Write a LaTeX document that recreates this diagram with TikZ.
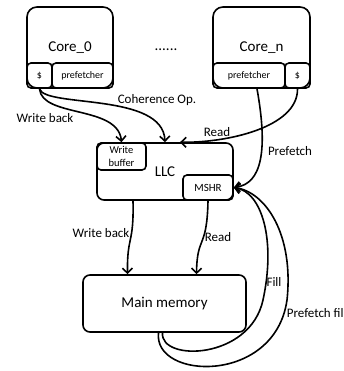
\documentclass[tikz,border=0pt]{standalone}
\usepackage{fontspec}
\setmainfont{Carlito}
\usetikzlibrary{arrows.meta,positioning}

\begin{document}
\begin{tikzpicture}[
  x=1pt,y=-1pt,
  line width=1.6pt,
  core/.style={draw,rounded corners=10pt,minimum width=86pt,minimum height=81pt,inner sep=0pt,font=\fontsize{15}{18}\selectfont},
  part/.style={draw,rounded corners=4pt,minimum height=25pt,inner sep=0pt,font=\fontsize{10}{12}\selectfont},
  bigbox/.style={draw,rounded corners=7pt,minimum height=57pt,inner sep=0pt,font=\fontsize{15}{18}\selectfont},
  lbl/.style={font=\fontsize{13}{15}\selectfont,inner sep=1pt},
  arr/.style={-{Straight Barb[length=5pt,width=10pt]}}
]
\useasboundingbox (0,0) rectangle (344,371);

% cores with their cache and prefetcher
\node[core] (core0) at (70,47.5) {Core\_0};
\node[part,minimum width=25pt,anchor=south west] (c0cache) at (core0.south west) {\$};
\node[part,minimum width=61pt,anchor=south east] (c0pref) at (core0.south east) {prefetcher};
\node[core,minimum width=97pt] (coren) at (261.5,47.5) {Core\_n};
\node[part,minimum width=72pt,anchor=south west] (cnpref) at (coren.south west) {prefetcher};
\node[part,minimum width=25pt,anchor=south east] (cncache) at (coren.south east) {\$};
\node[font=\fontsize{15}{18}\selectfont] (dots) at (166,50) {......};

% shared cache
\node[bigbox,minimum width=136pt] (llc) at (165,171.5) {LLC};
\node[part,minimum width=49pt,minimum height=27pt,anchor=north west,align=center,font=\fontsize{10.5}{12.5}\selectfont] (wbuf) at (llc.north west) {Write\\buffer};
\node[part,minimum width=50pt,anchor=south east,font=\fontsize{11}{13}\selectfont] (mshr) at (llc.south east) {MSHR};

\node[bigbox,minimum width=163pt] (mem) at (164.5,303.5) {Main memory};

% core side traffic
\draw[arr] (c0cache.south) .. controls (42,118) and (118,105) .. (wbuf.north);
\draw[arr] (c0cache.south) .. controls (45,108) and (163,92) .. (llc.north);
\draw[arr] (cncache.south) .. controls (298,128) and (225,143) .. ([xshift=15pt]llc.north);
\draw[arr] ([xshift=8pt]cnpref.south) .. controls (268,150) and (262,184) .. (mshr.east);

% memory side traffic
\draw[arr] ([xshift=-32pt]llc.south) .. controls (134,245) and (127,235) .. ([xshift=-37pt]mem.north);
\draw[arr] (mshr.south) .. controls (207,250) and (197,235) .. ([xshift=32pt]mem.north);
\draw[arr] ([xshift=-2pt]mem.south) .. controls (160,362) and (250,360) .. (263,300)
  .. controls (276,240) and (262,192) .. (mshr.east);
\draw[arr] ([xshift=-6pt]mem.south) .. controls (153,380) and (275,385) .. (287,300)
  .. controls (294,235) and (266,192) .. (mshr.east);

% labels
\node[lbl] (lwb0) at (45,118) {Write back};
\node[lbl] (lcoh) at (157,100) {Coherence Op.};
\node[lbl] (lrd0) at (217,132) {Read};
\node[lbl] (lpref) at (290,151) {Prefetch};
\node[lbl] (lwb1) at (101,233) {Write back};
\node[lbl] (lrd1) at (218,237) {Read};
\node[lbl] (lfill) at (274,282) {Fill};
\node[lbl,anchor=west] (lpfill) at (285,313) {Prefetch fill};
\end{tikzpicture}
\end{document}
